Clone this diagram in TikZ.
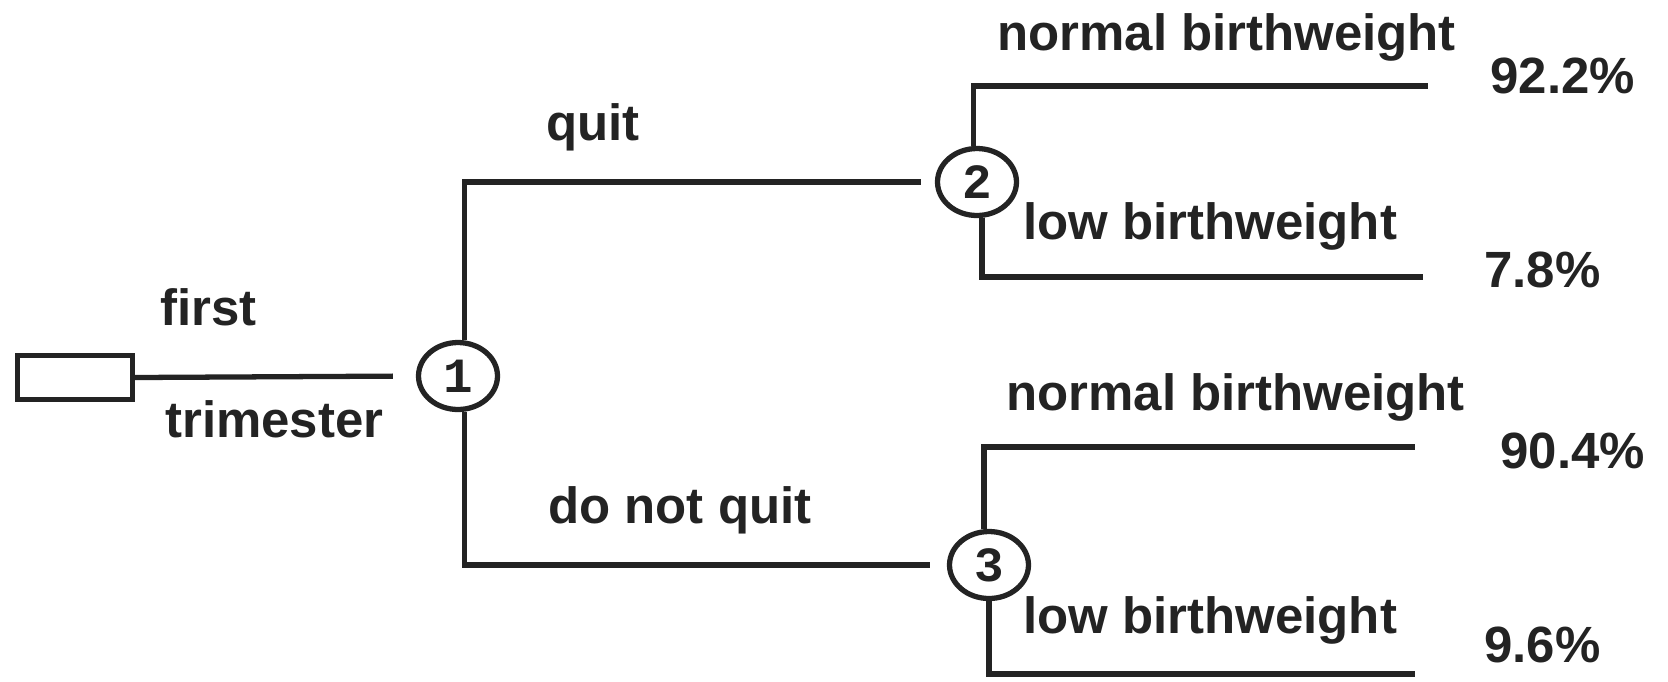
\documentclass[tikz,border=0pt]{standalone}
\usepackage{fontspec}
\setmainfont{Liberation Sans}
\newfontfamily\digitfont{Liberation Mono}
\usetikzlibrary{shapes.geometric}
\definecolor{ink}{RGB}{35,35,35}
\begin{document}
\begin{tikzpicture}[x=0.02cm,y=-0.02cm,
  wire/.style={line width=3pt, draw=ink},
  chance/.style={ellipse, draw=ink, text=ink, line width=3pt, minimum width=1.58cm, minimum height=1.34cm, inner sep=0pt, font=\digitfont\bfseries\fontsize{28}{28}\selectfont},
  decision/.style={rectangle, draw=ink, line width=2.8pt, minimum width=2.3cm, minimum height=0.88cm, inner sep=0pt},
  lbl/.style={anchor=base west, inner sep=0pt, text=ink, font=\bfseries\fontsize{29}{34}\selectfont}]
\useasboundingbox (0,0) rectangle (1668,681);
\fill[white] (0,0) rectangle (1668,681);
% nodes
\node[decision] (r) at (75,377.5) {};
\node[chance] (c1) at (458,376) {1};
\node[chance] (c2) at (977,182) {2};
\node[chance] (c3) at (989,565) {3};
\coordinate (e1) at (1428,86);
\coordinate (e2) at (1423,277);
\coordinate (e3) at (1415,447);
\coordinate (e4) at (1415,674);
% connectors
\draw[wire, shorten >=0.46cm] (r.east) -- (c1.west);
\draw[wire, shorten >=0.28cm] (c1.80) |- (c2.west);
\draw[wire, shorten >=0.34cm] (c1.-80) |- (c3.west);
\draw[wire] (c2.95) |- (e1);
\draw[wire] (c2.-82) |- (e2);
\draw[wire] (c3.98) |- (e3);
\draw[wire] (c3.-90) |- (e4);
% labels
\node[lbl] (tfirst) at (160,325) {first};
\node[lbl] (ttrim) at (165,437) {trimester};
\node[lbl] (tquit) at (546,140) {quit};
\node[lbl] (tnquit) at (548,523) {do not quit};
\node[lbl] (tn1) at (997,50) {normal birthweight};
\node[lbl] (tl1) at (1023,239) {low birthweight};
\node[lbl] (tn2) at (1006,410) {normal birthweight};
\node[lbl] (tl2) at (1023,633) {low birthweight};
\node[lbl] (p1) at (1490,93) {92.2\%};
\node[lbl] (p2) at (1484,287) {7.8\%};
\node[lbl] (p3) at (1500,468) {90.4\%};
\node[lbl] (p4) at (1484,662) {9.6\%};
\end{tikzpicture}
\end{document}
